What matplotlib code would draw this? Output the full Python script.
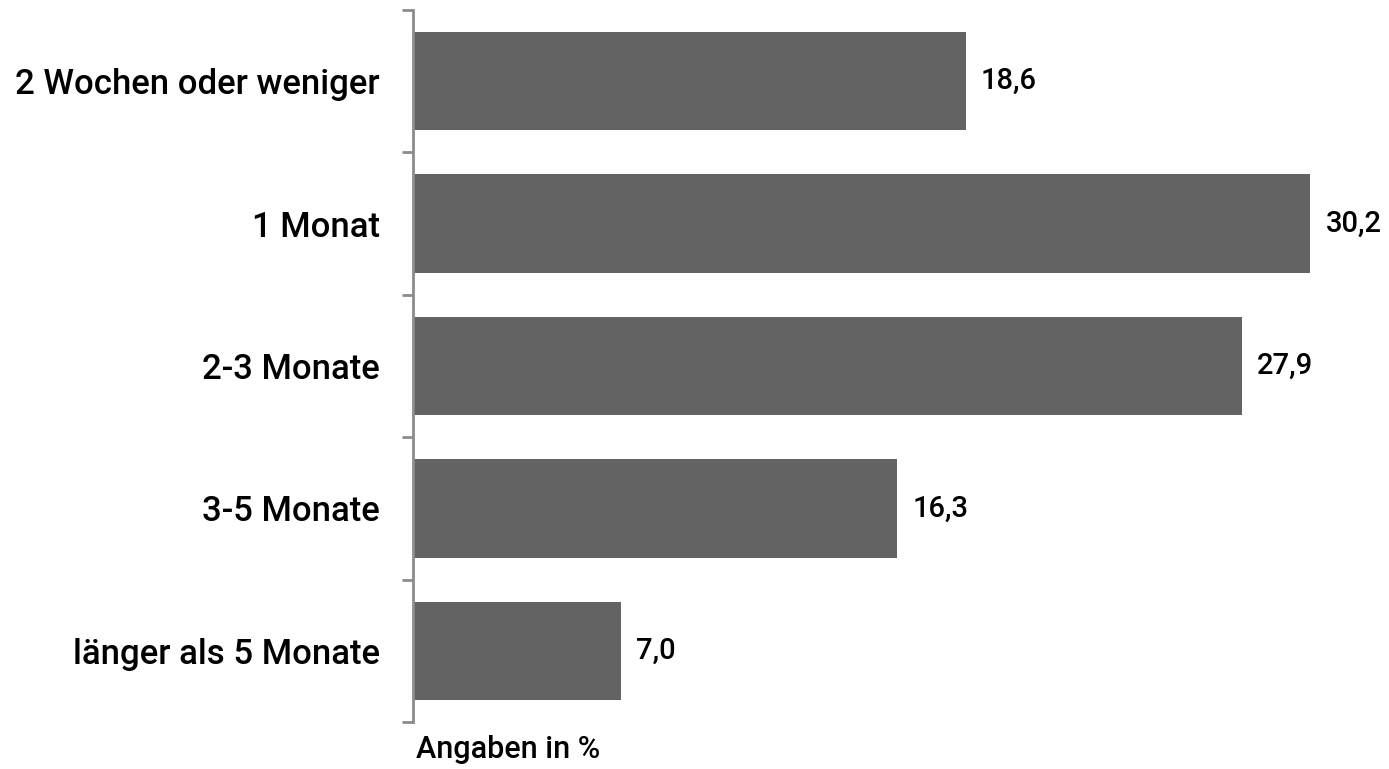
import matplotlib.pyplot as plt
import numpy as np

plt.rcParams['font.family'] = ['Roboto', 'DejaVu Sans']
plt.rcParams['font.weight'] = 'medium'

categories = ["2 Wochen oder weniger", "1 Monat", "2-3 Monate", "3-5 Monate", "länger als 5 Monate"]
values = [18.6, 30.2, 27.9, 16.3, 7.0]
value_labels = ["18,6", "30,2", "27,9", "16,3", "7,0"]

fig = plt.figure(figsize=(13.89, 7.69), dpi=100)
ax = fig.add_axes([413 / 1389, 1 - 722 / 769, 1 - 413 / 1389, (722 - 10) / 769])

y = np.arange(len(categories))
ax.barh(y, values, height=0.69, color="#636363")

ax.set_xlim(0, 32.85)
ax.set_ylim(len(categories) - 0.5, -0.5)

# boundary ticks (major) and category labels (minor)
ax.set_yticks(np.arange(-0.5, len(categories), 1.0))
ax.set_yticklabels([])
ax.set_yticks(y, minor=True)
ax.set_yticklabels(categories, minor=True, fontsize=25)
ax.tick_params(axis="y", which="major", length=8, width=2, color="#8c8c8c", direction="out")
ax.tick_params(axis="y", which="minor", length=0, pad=24)
ax.set_xticks([])

for s in ["top", "right", "bottom"]:
    ax.spines[s].set_visible(False)
ax.spines["left"].set_color("#8c8c8c")
ax.spines["left"].set_linewidth(2)

for yi, v, lab in zip(y, values, value_labels):
    ax.annotate(lab, (v, yi), xytext=(11, 0), textcoords="offset points",
                ha="left", va="center", fontsize=21)

fig.text(416 / 1389, 1 - 750 / 769, "Angaben in %", ha="left", va="center", fontsize=22)

plt.savefig("out.png", dpi=100)
plt.close()
